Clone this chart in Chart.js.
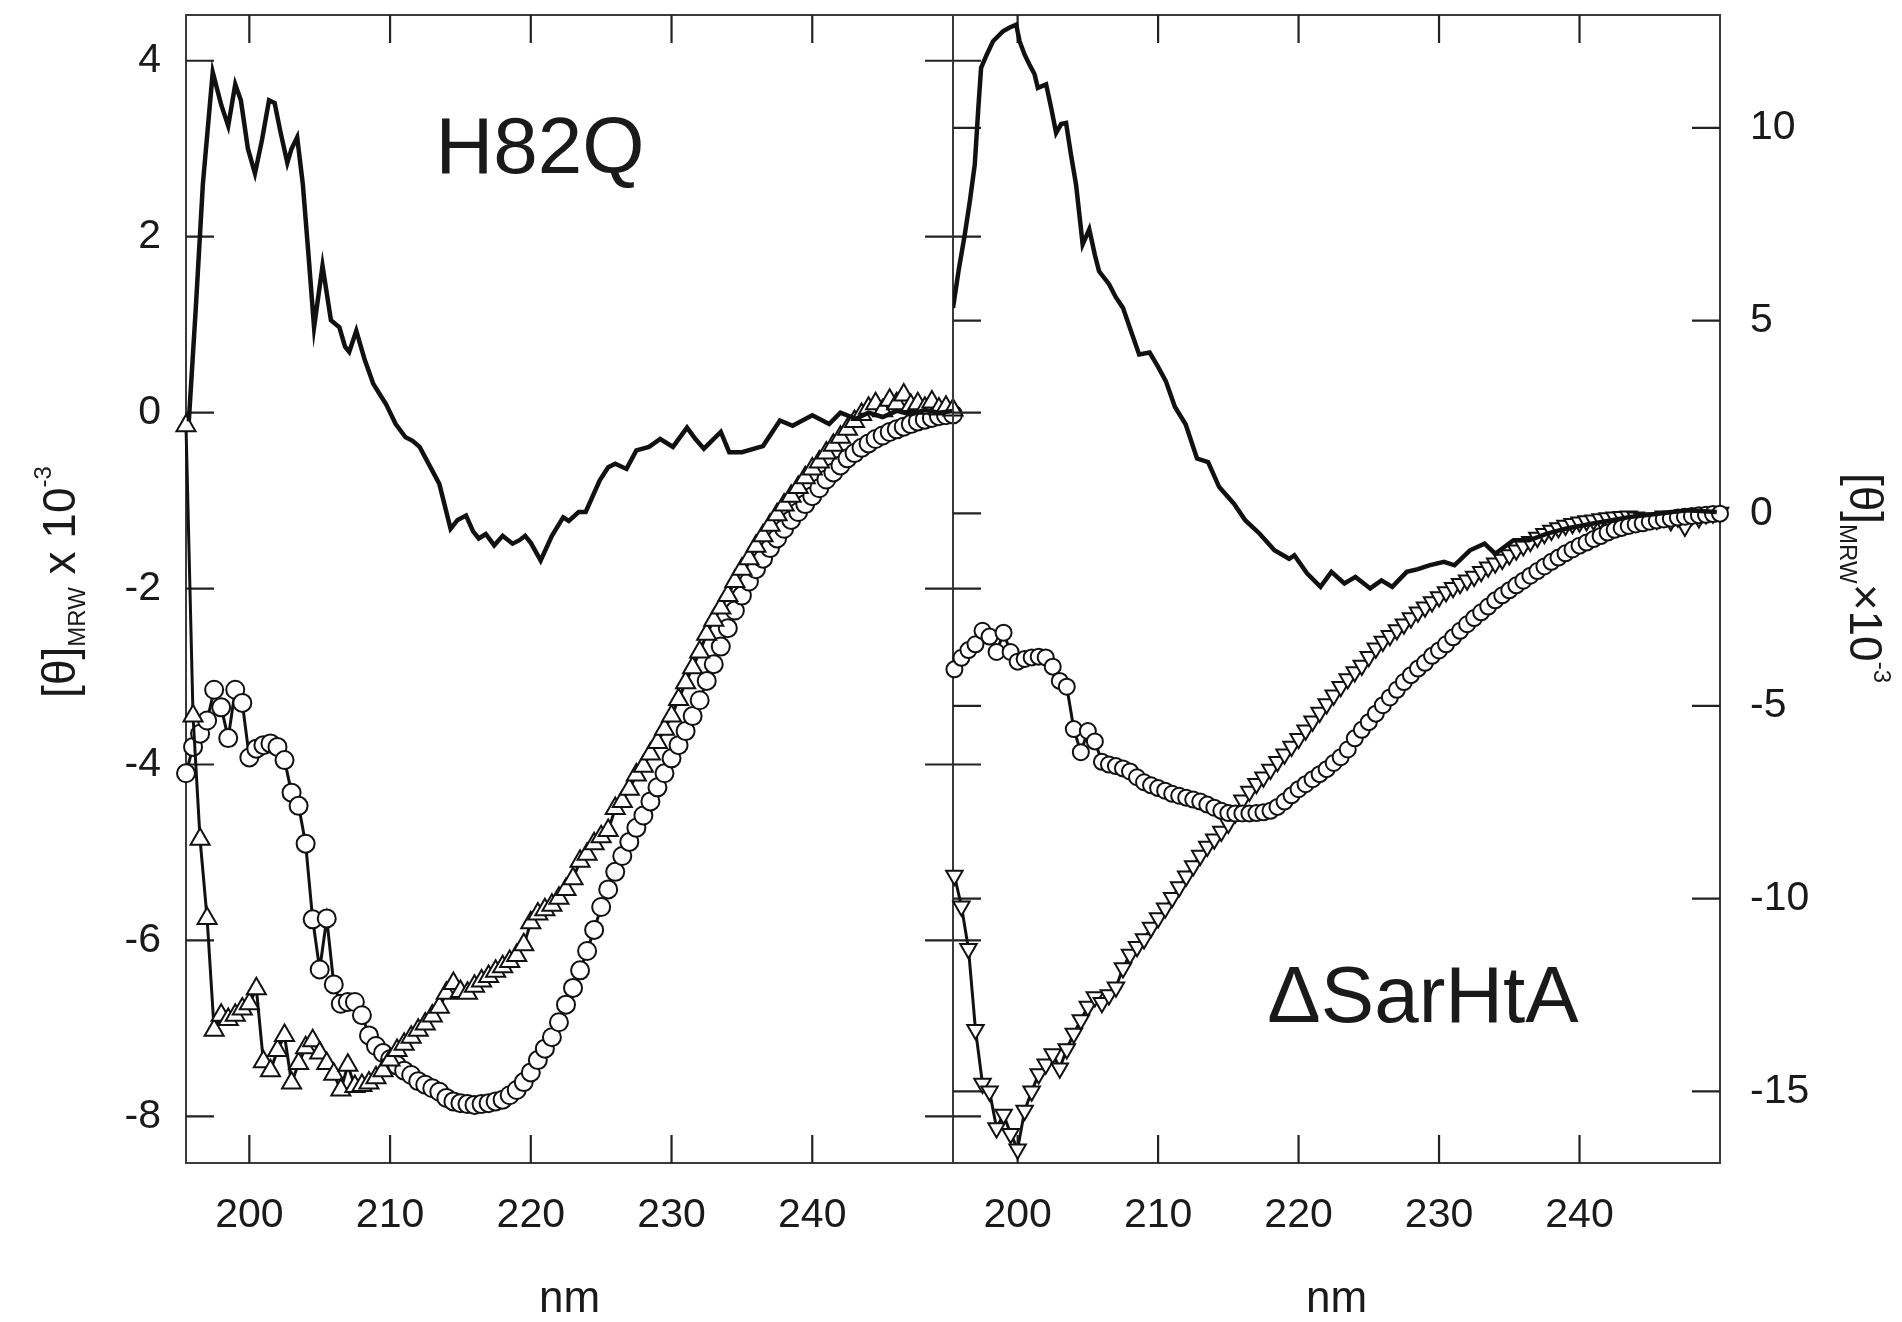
<!DOCTYPE html>
<html>
<head>
<meta charset="utf-8">
<script src="https://cdn.jsdelivr.net/npm/chart.js@4/dist/chart.umd.min.js"></script>
<style>
  body { margin: 0; background: #fff; }
  #wrap { position: relative; width: 1902px; height: 1322px; background: #fff; }
  canvas { position: absolute; top: 0; }
  #left { left: 0; }
  #right { left: 930px; }
</style>
</head>
<body>
<div id="wrap">
  <canvas id="left" width="975" height="1322" style="width:975px;height:1322px"></canvas>
  <canvas id="right" width="972" height="1322" style="width:972px;height:1322px"></canvas>
</div>
<script>
// wavelength grid of the marker series (nm)
const waves = [
  195.5, 196.0, 196.5, 197.0, 197.5, 198.0, 198.5, 199.0, 199.5, 200.0,
  200.5, 201.0, 201.5, 202.0, 202.5, 203.0, 203.5, 204.0, 204.5, 205.0,
  205.5, 206.0, 206.5, 207.0, 207.5, 208.0, 208.5, 209.0, 209.5, 210.0,
  210.5, 211.0, 211.5, 212.0, 212.5, 213.0, 213.5, 214.0, 214.5, 215.0,
  215.5, 216.0, 216.5, 217.0, 217.5, 218.0, 218.5, 219.0, 219.5, 220.0,
  220.5, 221.0, 221.5, 222.0, 222.5, 223.0, 223.5, 224.0, 224.5, 225.0,
  225.5, 226.0, 226.5, 227.0, 227.5, 228.0, 228.5, 229.0, 229.5, 230.0,
  230.5, 231.0, 231.5, 232.0, 232.5, 233.0, 233.5, 234.0, 234.5, 235.0,
  235.5, 236.0, 236.5, 237.0, 237.5, 238.0, 238.5, 239.0, 239.5, 240.0,
  240.5, 241.0, 241.5, 242.0, 242.5, 243.0, 243.5, 244.0, 244.5, 245.0,
  245.5, 246.0, 246.5, 247.0, 247.5, 248.0, 248.5, 249.0, 249.5, 250.0
];

// H82Q panel
const h82qCircles = [
  -4.10, -3.80, -3.65, -3.50, -3.15, -3.35, -3.70, -3.15, -3.30, -3.92,
  -3.82, -3.78, -3.76, -3.80, -3.95, -4.32, -4.47, -4.90, -5.76, -6.33,
  -5.75, -6.50, -6.72, -6.70, -6.70, -6.85, -7.08, -7.20, -7.28, -7.35,
  -7.42, -7.48, -7.53, -7.60, -7.64, -7.68, -7.72, -7.79, -7.83, -7.85,
  -7.86, -7.87, -7.86, -7.85, -7.83, -7.81, -7.76, -7.70, -7.61, -7.50,
  -7.36, -7.23, -7.10, -6.93, -6.73, -6.54, -6.34, -6.12, -5.88, -5.62,
  -5.42, -5.22, -5.04, -4.88, -4.72, -4.58, -4.42, -4.26, -4.10, -3.93,
  -3.78, -3.62, -3.45, -3.27, -3.05, -2.86, -2.66, -2.45, -2.25, -2.08,
  -1.92, -1.78, -1.66, -1.54, -1.43, -1.32, -1.22, -1.13, -1.04, -0.95,
  -0.86, -0.76, -0.68, -0.60, -0.52, -0.46, -0.40, -0.35, -0.30, -0.26,
  -0.22, -0.19, -0.16, -0.13, -0.10, -0.08, -0.06, -0.04, -0.03, -0.02
];
const h82qTriangles = [
  -0.15, -3.45, -4.85, -5.75, -7.02, -6.85, -6.90, -6.85, -6.78, -6.72,
  -6.55, -7.38, -7.48, -7.25, -7.08, -7.62, -7.40, -7.22, -7.14, -7.28,
  -7.40, -7.52, -7.70, -7.42, -7.66, -7.65, -7.62, -7.56, -7.48, -7.36,
  -7.25, -7.18, -7.10, -7.02, -6.95, -6.86, -6.76, -6.60, -6.49, -6.58,
  -6.60, -6.52, -6.46, -6.41, -6.35, -6.30, -6.24, -6.17, -6.05, -5.80,
  -5.70, -5.65, -5.60, -5.52, -5.42, -5.30, -5.10, -5.02, -4.90, -4.82,
  -4.75, -4.50, -4.42, -4.28, -4.12, -4.02, -3.88, -3.75, -3.60, -3.45,
  -3.26, -3.07, -2.90, -2.72, -2.52, -2.36, -2.22, -2.08, -1.92, -1.78,
  -1.66, -1.52, -1.40, -1.28, -1.16, -1.05, -0.95, -0.85, -0.74, -0.64,
  -0.56, -0.46, -0.37, -0.28, -0.19, -0.10, -0.02, 0.05, 0.10, 0.02,
  0.14, 0.10, 0.20, 0.08, 0.10, 0.05, 0.12, 0.04, 0.06, 0.03
];
const h82qLineNm = [
  195.7, 196.2, 196.7, 197.4, 198.0, 198.5, 199.0, 199.4, 199.9, 200.4,
  200.9, 201.4, 201.8, 202.2, 202.7, 203.0, 203.4, 203.8, 204.2, 204.6,
  205.2, 205.8, 206.4, 206.8, 207.1, 207.6, 208.2, 208.8, 209.3, 209.7,
  210.4, 211.1, 211.6, 212.1, 212.8, 213.5, 214.3, 214.8, 215.4, 215.9,
  216.3, 216.8, 217.4, 218.0, 218.7, 219.2, 219.6, 220.0, 220.7, 221.5,
  222.3, 222.7, 223.4, 223.9, 224.9, 225.5, 226.0, 226.8, 227.5, 228.4,
  229.2, 230.1, 231.1, 231.7, 232.3, 233.5, 234.1, 235.0, 236.5, 237.7,
  238.6, 240.0, 241.2, 242.0, 243.1, 244.0, 245.0, 246.0, 247.0, 248.0,
  249.0, 250.0
];
const h82qLineVal = [
  -0.10, 1.20, 2.60, 3.87, 3.50, 3.26, 3.73, 3.55, 3.00, 2.72,
  3.10, 3.55, 3.52, 3.20, 2.84, 3.00, 3.13, 2.60, 1.80, 0.97,
  1.67, 1.05, 0.97, 0.75, 0.69, 0.93, 0.60, 0.33, 0.20, 0.10,
  -0.13, -0.28, -0.32, -0.39, -0.60, -0.81, -1.32, -1.22, -1.17, -1.35,
  -1.43, -1.38, -1.51, -1.40, -1.49, -1.45, -1.40, -1.48, -1.68, -1.40,
  -1.19, -1.23, -1.13, -1.13, -0.77, -0.62, -0.58, -0.64, -0.43, -0.39,
  -0.30, -0.39, -0.17, -0.30, -0.41, -0.22, -0.45, -0.45, -0.38, -0.09,
  -0.15, -0.03, -0.13, 0.00, -0.07, 0.00, -0.05, 0.02, -0.02, 0.03,
  0.00, 0.02
];

// ΔSarHtA panel
const sarCircles = [
  -4.05, -3.75, -3.55, -3.40, -3.05, -3.20, -3.60, -3.10, -3.60, -3.85,
  -3.78, -3.74, -3.72, -3.74, -3.98, -4.35, -4.50, -5.60, -6.20, -5.65,
  -5.92, -6.45, -6.52, -6.56, -6.62, -6.70, -6.85, -6.98, -7.06, -7.13,
  -7.20, -7.28, -7.33, -7.38, -7.43, -7.48, -7.56, -7.64, -7.72, -7.78,
  -7.79, -7.79, -7.79, -7.78, -7.76, -7.72, -7.62, -7.48, -7.32, -7.16,
  -7.03, -6.90, -6.77, -6.64, -6.48, -6.33, -6.13, -5.84, -5.62, -5.42,
  -5.20, -4.98, -4.78, -4.58, -4.38, -4.20, -4.03, -3.88, -3.70, -3.56,
  -3.40, -3.22, -3.05, -2.88, -2.72, -2.57, -2.42, -2.26, -2.13, -2.00,
  -1.87, -1.75, -1.62, -1.50, -1.38, -1.26, -1.15, -1.04, -0.94, -0.84,
  -0.76, -0.67, -0.59, -0.50, -0.43, -0.38, -0.33, -0.29, -0.26, -0.22,
  -0.19, -0.16, -0.14, -0.11, -0.09, -0.07, -0.05, -0.04, -0.02, -0.01
];
const sarTriangles = [
  -9.40, -10.20, -11.30, -13.40, -14.80, -15.00, -15.95, -15.60, -16.10, -16.50,
  -15.50, -15.00, -14.55, -14.30, -14.03, -14.40, -13.90, -13.50, -13.15, -12.80,
  -12.55, -12.70, -12.50, -12.30, -11.80, -11.45, -11.25, -11.05, -10.75, -10.50,
  -10.25, -9.98, -9.70, -9.42, -9.15, -8.88, -8.65, -8.46, -8.26, -8.05,
  -7.78, -7.45, -7.22, -7.02, -6.85, -6.65, -6.45, -6.25, -6.05, -5.85,
  -5.63, -5.40, -5.17, -4.95, -4.72, -4.50, -4.30, -4.12, -3.95, -3.72,
  -3.50, -3.33, -3.18, -3.03, -2.88, -2.72, -2.57, -2.44, -2.30, -2.17,
  -2.04, -1.93, -1.83, -1.74, -1.64, -1.52, -1.40, -1.30, -1.20, -1.08,
  -0.96, -0.85, -0.74, -0.63, -0.53, -0.45, -0.38, -0.32, -0.27, -0.23,
  -0.20, -0.18, -0.15, -0.12, -0.10, -0.09, -0.08, -0.10, -0.14, -0.12,
  -0.16, -0.08, -0.20, -0.10, -0.34, -0.06, -0.12, -0.02, 0.00, 0.02
];
const sarLineNm = [
  195.4, 195.8, 196.24, 196.6, 196.95, 197.2, 197.4, 197.8, 198.25, 198.96,
  199.4, 199.9, 200.14, 200.5, 200.85, 201.2, 201.44, 202.03, 202.4, 202.74,
  203.1, 203.45, 203.8, 204.16, 204.63, 205.1, 205.5, 205.8, 206.5, 207.0,
  207.5, 208.0, 208.65, 209.4, 210.0, 210.55, 211.2, 211.96, 212.77, 213.56,
  214.35, 215.4, 216.2, 217.23, 218.28, 219.33, 219.7, 220.6, 221.56, 222.34,
  223.26, 224.05, 225.1, 225.9, 226.67, 227.7, 228.5, 229.3, 230.35, 231.1,
  232.2, 233.24, 234.0, 235.3, 236.4, 237.7, 239.0, 240.85, 242.0, 243.5,
  245.57, 247.66, 249.77
];
const sarLineVal = [
  5.33, 6.30, 7.24, 8.10, 9.05, 10.50, 11.56, 11.90, 12.25, 12.51,
  12.60, 12.68, 12.25, 11.90, 11.64, 11.40, 11.04, 11.13, 10.50, 9.87,
  10.10, 10.13, 9.30, 8.53, 6.98, 7.37, 6.70, 6.28, 5.95, 5.60,
  5.33, 4.80, 4.12, 4.17, 3.80, 3.43, 2.76, 2.31, 1.42, 1.33,
  0.68, 0.25, -0.18, -0.53, -0.96, -1.18, -1.09, -1.56, -1.91, -1.52,
  -1.82, -1.65, -1.95, -1.74, -1.91, -1.52, -1.45, -1.35, -1.26, -1.35,
  -0.96, -0.79, -1.05, -0.70, -0.70, -0.53, -0.40, -0.27, -0.20, -0.10,
  -0.01, 0.08, 0.03
];

// axis ticks
const nmTicks = [200, 210, 220, 230, 240];
const leftYTicks = [-8, -6, -4, -2, 0, 2, 4];
const rightYTicks = [-15, -10, -5, 0, 5, 10];

const FONT = "'Liberation Sans', Arial, Helvetica, sans-serif";
const INK = '#1a1a1a';
const TICK = 28;
Chart.defaults.font.family = FONT;
Chart.defaults.color = INK;

function pairs(xs, ys) {
  return xs.map((x, i) => ({ x: x, y: ys[i] }));
}

function markerSet(ys, style, radius, rot, order) {
  return {
    data: pairs(waves, ys),
    borderColor: '#111',
    borderWidth: 3,
    pointStyle: style,
    pointRadius: radius,
    pointRotation: rot,
    pointBackgroundColor: '#fff',
    pointBorderColor: '#111',
    pointBorderWidth: 2,
    clip: false,
    order: order
  };
}

function lineSet(xs, ys) {
  return {
    data: pairs(xs, ys),
    borderColor: '#111',
    borderWidth: 4.5,
    pointRadius: 0,
    order: 0
  };
}

function drawRich(ctx, parts, cx, cy, angle) {
  ctx.save();
  ctx.translate(cx, cy);
  ctx.rotate(angle);
  let total = 0;
  parts.forEach(p => {
    ctx.font = p.size + 'px ' + FONT;
    p.w = ctx.measureText(p.text).width;
    total += p.w;
  });
  let xx = -total / 2;
  ctx.fillStyle = INK;
  ctx.textAlign = 'left';
  ctx.textBaseline = 'alphabetic';
  parts.forEach(p => {
    ctx.font = p.size + 'px ' + FONT;
    ctx.fillText(p.text, xx, p.dy);
    xx += p.w;
  });
  ctx.restore();
}

let leftChart = null;

// frame + inward ticks on all four sides
const frameTicks = {
  id: 'frameTicks',
  beforeDatasetsDraw(chart) {
    const { ctx, chartArea: a } = chart;
    const x = chart.scales.x, y = chart.scales.y;
    ctx.save();
    ctx.strokeStyle = '#3a3a3a';
    ctx.lineWidth = 2;
    ctx.strokeRect(a.left, a.top, a.right - a.left, a.bottom - a.top);
    ctx.strokeStyle = '#222';
    ctx.lineWidth = 2.2;
    ctx.beginPath();
    x.ticks.forEach(t => {
      const px = x.getPixelForValue(t.value);
      ctx.moveTo(px, a.bottom); ctx.lineTo(px, a.bottom - TICK);
      ctx.moveTo(px, a.top); ctx.lineTo(px, a.top + TICK);
    });
    y.ticks.forEach(t => {
      const py = y.getPixelForValue(t.value);
      ctx.moveTo(a.left, py); ctx.lineTo(a.left + TICK, py);
      ctx.moveTo(a.right, py); ctx.lineTo(a.right - TICK, py);
    });
    if (chart.canvas.id === 'right' && leftChart) {
      leftYTicks.forEach(v => {
        const py = leftChart.scales.y.getPixelForValue(v);
        ctx.moveTo(a.left, py); ctx.lineTo(a.left + TICK, py);
      });
    }
    ctx.stroke();
    ctx.restore();
  },
  afterDraw(chart) {
    const ctx = chart.ctx;
    ctx.save();
    ctx.fillStyle = INK;
    ctx.font = '80px ' + FONT;
    ctx.textAlign = 'center';
    ctx.textBaseline = 'alphabetic';
    if (chart.canvas.id === 'left') {
      ctx.fillText('H82Q', 540, 173);
      drawRich(ctx, [
        { text: '[θ]', size: 46, dy: 0 },
        { text: 'MRW', size: 24, dy: 10 },
        { text: ' x 10', size: 46, dy: 0 },
        { text: '-3', size: 24, dy: -24 }
      ], 75, 582, -Math.PI / 2);
    } else {
      ctx.fillText('ΔSarHtA', 493, 1022);
      drawRich(ctx, [
        { text: '[θ]', size: 46, dy: 0 },
        { text: 'MRW', size: 24, dy: 10 },
        { text: '×10', size: 46, dy: 0 },
        { text: '-3', size: 24, dy: -24 }
      ], 920, 578, Math.PI / 2);
    }
    ctx.restore();
  }
};

function xScale(min) {
  return {
    type: 'linear',
    min: min,
    max: 250,
    afterBuildTicks: s => { s.ticks = nmTicks.map(v => ({ value: v })); },
    afterFit: s => { s.height = 159; s.paddingLeft = 0; s.paddingRight = 0; },
    grid: { display: false, drawTicks: false, tickLength: 0 },
    border: { display: false },
    ticks: { font: { size: 41 }, padding: 28, color: INK, maxRotation: 0 },
    title: { display: true, text: 'nm', font: { size: 44, lineHeight: 1.0 }, padding: { top: 0, bottom: 0 }, color: INK }
  };
}

function yScale(min, max, list, pos, width, pad) {
  return {
    type: 'linear',
    position: pos,
    min: min,
    max: max,
    afterBuildTicks: s => { s.ticks = list.map(v => ({ value: v })); },
    afterFit: s => { s.width = width; s.paddingTop = 0; s.paddingBottom = 0; },
    grid: { display: false, drawTicks: false, tickLength: 0 },
    border: { display: false },
    ticks: { font: { size: 41 }, padding: pad, color: INK }
  };
}

leftChart = new Chart(document.getElementById('left'), {
  type: 'line',
  data: {
    datasets: [
      lineSet(h82qLineNm, h82qLineVal),
      markerSet(h82qCircles, 'circle', 9, 0, 2),
      markerSet(h82qTriangles, 'triangle', 11, 0, 1)
    ]
  },
  options: {
    responsive: false,
    animation: false,
    devicePixelRatio: 1,
    layout: { padding: { top: 15, right: 22, left: 0, bottom: 0 } },
    plugins: { legend: { display: false }, tooltip: { enabled: false } },
    scales: {
      x: xScale(195.5),
      y: yScale(-8.53, 4.52, leftYTicks, 'left', 186, 25)
    }
  },
  plugins: [frameTicks]
});

new Chart(document.getElementById('right'), {
  type: 'line',
  data: {
    datasets: [
      lineSet(sarLineNm, sarLineVal),
      markerSet(sarCircles, 'circle', 8, 0, 1),
      markerSet(sarTriangles, 'triangle', 9.5, 180, 2)
    ]
  },
  options: {
    responsive: false,
    animation: false,
    devicePixelRatio: 1,
    layout: { padding: { top: 15, right: 0, left: 23, bottom: 0 } },
    plugins: { legend: { display: false }, tooltip: { enabled: false } },
    scales: {
      x: xScale(195.4),
      y: yScale(-16.86, 12.93, rightYTicks, 'right', 182, 30)
    }
  },
  plugins: [frameTicks]
});
</script>
</body>
</html>
